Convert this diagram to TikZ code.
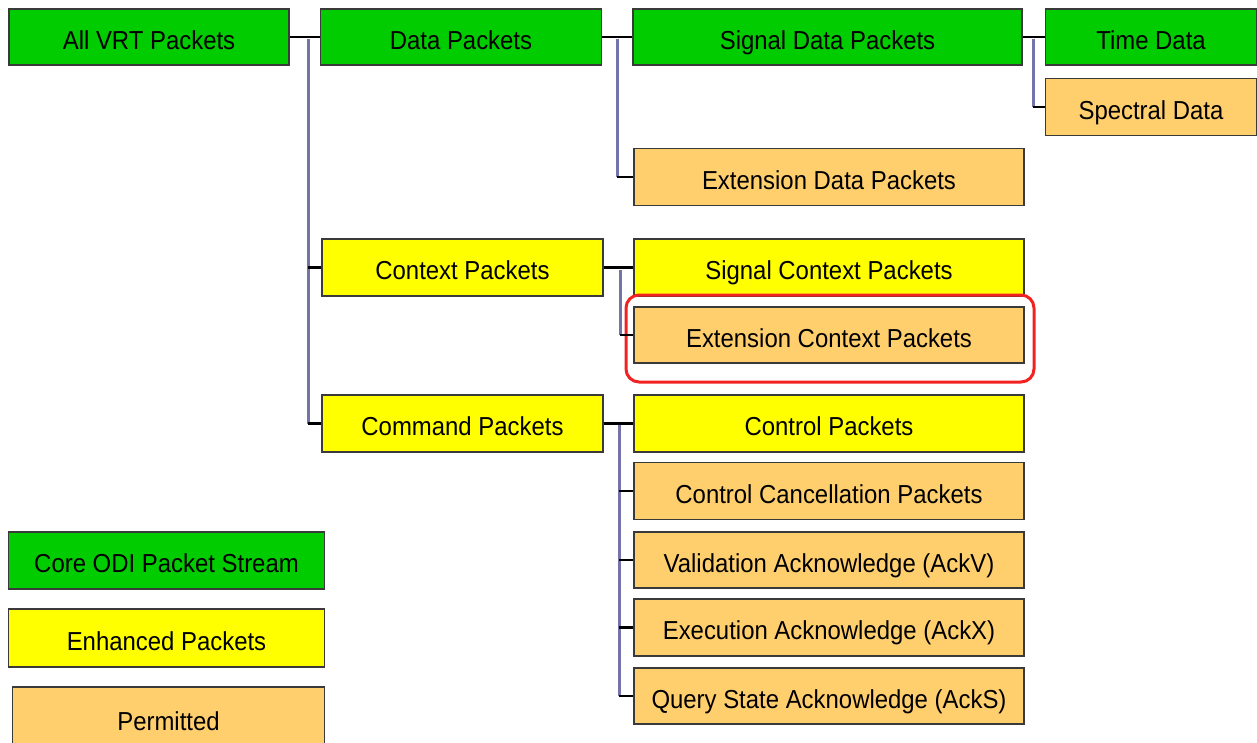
\documentclass[tikz,border=0pt]{standalone}
\usepackage{fontspec}
\setmainfont{Liberation Sans}[FakeStretch=0.92]
\definecolor{cgreen}{HTML}{00CC00}
\definecolor{cyellow}{HTML}{FFFF00}
\definecolor{corange}{HTML}{FFCF6E}
\definecolor{cline}{HTML}{7474A8}
\definecolor{cborder}{HTML}{3A3A3A}
\definecolor{cred}{HTML}{F22222}
\begin{document}
\begin{tikzpicture}[x=1pt,y=-1pt,
  box/.style={draw=cborder,line width=1.4pt,rectangle,inner sep=0pt,
    text height=24pt,text depth=0pt,
    font=\fontsize{26}{30}\selectfont,text=black},
  core/.style={box,fill=cgreen},
  enh/.style={box,fill=cyellow},
  perm/.style={box,fill=corange},
  blk/.style={draw=black,line width=2.8pt},
  vl/.style={draw=cline,line width=3pt},
  hl/.style={draw=cred,line width=3pt,rounded corners=13pt}]
\useasboundingbox (0,0) rectangle (1257,742);
% top row
\node[core,minimum width=280pt,minimum height=56pt] (allvrt) at (149,37) {All VRT Packets};
\node[core,minimum width=281pt,minimum height=56pt] (data) at (461,37) {Data Packets};
\node[core,minimum width=389pt,minimum height=56pt] (sigdata) at (827.5,37) {Signal Data Packets};
\node[core,minimum width=211pt,minimum height=56pt] (time) at (1151,37) {Time Data};
\node[perm,minimum width=211pt,minimum height=57pt] (spec) at (1151,107) {Spectral Data};
\node[perm,minimum width=390pt,minimum height=57pt] (extdata) at (829,177) {Extension Data Packets};
% context
\node[enh,minimum width=281pt,minimum height=57pt] (ctx) at (462.5,267.5) {Context Packets};
\node[enh,minimum width=390pt,minimum height=57pt] (sigctx) at (829,267.5) {Signal Context Packets};
\node[perm,minimum width=390pt,minimum height=56pt] (extctx) at (829,335) {Extension Context Packets};
\draw[hl] (626,295) rectangle (1034,382);
% command
\node[enh,minimum width=281pt,minimum height=57pt] (cmd) at (462.5,423.5) {Command Packets};
\node[enh,minimum width=390pt,minimum height=57pt] (ctrl) at (829,423.5) {Control Packets};
\node[perm,minimum width=390pt,minimum height=57pt] (cancel) at (829,491) {Control Cancellation Packets};
\node[perm,minimum width=390pt,minimum height=56pt] (ackv) at (829,560) {Validation Acknowledge (AckV)};
\node[perm,minimum width=390pt,minimum height=57pt] (ackx) at (829,627.5) {Execution Acknowledge (AckX)};
\node[perm,minimum width=390pt,minimum height=56pt] (acks) at (829,696) {Query State Acknowledge (AckS)};
% legend
\node[core,minimum width=316pt,minimum height=57pt] (lcore) at (166.5,560.5) {Core ODI Packet Stream};
\node[enh,minimum width=316pt,minimum height=58pt] (lenh) at (166.5,638) {Enhanced Packets};
\node[perm,minimum width=312pt,minimum height=62pt] (lperm) at (168.5,718) {Permitted};
% junction coordinates
\coordinate (j1) at (308,39);
\coordinate (j2) at (617,39);
\coordinate (j3) at (1033,39);
\coordinate (j4) at (620,270);
\coordinate (j5) at (619,425);
% connectors
\draw[vl] (j1) -- (j1 |- cmd.west);
\draw[vl] (j2) -- (j2 |- extdata.west);
\draw[vl] (j3) -- (j3 |- spec.west);
\draw[vl] (j4) -- (j4 |- extctx.west);
\draw[vl] (j5) -- (j5 |- acks.west);
\draw[blk] (allvrt.east) -- (data.west);
\draw[blk] (j1 |- ctx.west) -- (ctx.west);
\draw[blk] (j1 |- cmd.west) -- (cmd.west);
\draw[blk] (data.east) -- (sigdata.west);
\draw[blk] (j2 |- extdata.west) -- (extdata.west);
\draw[blk] (sigdata.east) -- (time.west);
\draw[blk] (j3 |- spec.west) -- (spec.west);
\draw[blk] (ctx.east) -- (sigctx.west);
\draw[blk] (j4 |- extctx.west) -- (extctx.west);
\draw[blk] (cmd.east) -- (ctrl.west);
\draw[blk] (j5 |- cancel.west) -- (cancel.west);
\draw[blk] (j5 |- ackv.west) -- (ackv.west);
\draw[blk] (j5 |- ackx.west) -- (ackx.west);
\draw[blk] (j5 |- acks.west) -- (acks.west);
\end{tikzpicture}
\end{document}
